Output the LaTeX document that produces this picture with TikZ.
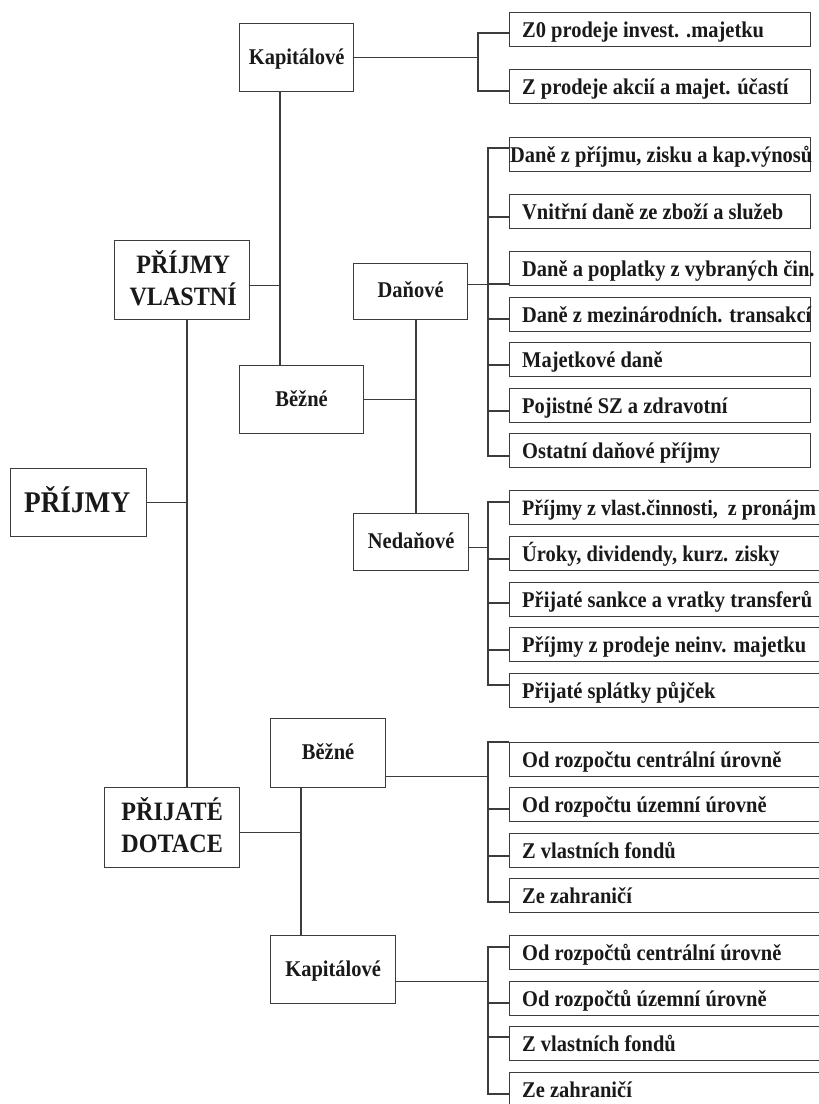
\documentclass[tikz,border=0pt]{standalone}
\usepackage{fontspec}
\setmainfont{Liberation Serif}[FakeStretch=0.91]
\definecolor{linec}{RGB}{60,60,60}
\definecolor{txtc}{RGB}{25,25,25}
\begin{document}
\begin{tikzpicture}[x=1pt,y=-1pt,
  box/.style={draw=linec,line width=1.3pt,rectangle,inner sep=0pt,anchor=north west},
  itemk/.style={box,minimum width=301pt,minimum height=34pt},
  itemw/.style={box,minimum width=310pt,minimum height=34pt},
  itxt/.style={anchor=base west,inner sep=0pt,text=txtc,font=\fontsize{22.5}{27}\selectfont\bfseries},
  mtxt/.style={anchor=base,inner sep=0pt,text=txtc,font=\fontsize{22.5}{27}\selectfont\bfseries},
  btxt/.style={anchor=base,inner sep=0pt,text=txtc,font=\fontsize{26.5}{32}\selectfont\bfseries},
  htxt/.style={anchor=base,inner sep=0pt,text=txtc,font=\fontsize{30}{36}\selectfont\bfseries},
  conn/.style={draw=linec,line width=1.3pt}]
\useasboundingbox (0,0) rectangle (819,1104);
\clip (0,0) rectangle (819,1104);
\fill[white] (0,0) rectangle (819,1104);

% ---- main boxes ----
\node[box,minimum width=114pt,minimum height=68pt] (kap1) at (239,23) {};
\node[box,minimum width=124pt,minimum height=68pt] (bez1) at (239,365) {};
\node[box,minimum width=114pt,minimum height=56pt] (dan) at (353,263) {};
\node[box,minimum width=115pt,minimum height=57pt] (ned) at (353,513) {};
\node[box,minimum width=135pt,minimum height=79pt] (pv) at (114,240) {};
\node[box,minimum width=136pt,minimum height=68pt] (pr) at (10,468) {};
\node[box,minimum width=135pt,minimum height=80pt] (pd) at (104,787) {};
\node[box,minimum width=115pt,minimum height=69pt] (bez2) at (270,718) {};
\node[box,minimum width=125pt,minimum height=68pt] (kap2) at (270,935) {};

\node[mtxt] (kap1t) at ([yshift=-7pt]kap1.center) {Kapitálové};
\node[mtxt] (bez1t) at ([yshift=-7pt]bez1.center) {Běžné};
\node[mtxt] (dant) at ([yshift=-6pt]dan.center) {Daňové};
\node[mtxt] (nedt) at ([yshift=-6.5pt]ned.center) {Nedaňové};
\node[mtxt] (bez2t) at ([yshift=-6.5pt]bez2.center) {Běžné};
\node[mtxt] (kap2t) at ([yshift=-7pt]kap2.center) {Kapitálové};
\node[htxt] (prt) at ([xshift=-1.5pt,yshift=-10pt]pr.center) {PŘÍJMY};
\node[btxt] (pvt1) at ([xshift=1pt,yshift=6.5pt]pv.center) {PŘÍJMY};
\node[btxt] (pvt2) at ([xshift=1pt,yshift=-25.5pt]pv.center) {VLASTNÍ};
\node[btxt] (pdt1) at ([yshift=7pt]pd.center) {PŘIJATÉ};
\node[btxt] (pdt2) at ([yshift=-25pt]pd.center) {DOTACE};

% ---- item boxes ----
\node[itemk] (k1) at (509,12) {};
\node[itemk] (k2) at (509,69) {};
\node[itemk] (d1) at (509,137) {};
\node[itemk] (d2) at (509,194) {};
\node[itemk] (d3) at (509,251) {};
\node[itemk] (d4) at (509,297) {};
\node[itemk] (d5) at (509,342) {};
\node[itemk] (d6) at (509,388) {};
\node[itemk] (d7) at (509,433) {};
\node[itemw] (n1) at (509,490) {};
\node[itemw] (n2) at (509,536) {};
\node[itemw] (n3) at (509,582) {};
\node[itemw] (n4) at (509,627) {};
\node[itemw] (n5) at (509,673) {};
\node[itemw] (b1) at (509,742) {};
\node[itemw] (b2) at (509,787) {};
\node[itemw] (b3) at (509,833) {};
\node[itemw] (b4) at (509,878) {};
\node[itemw] (c1) at (509,935) {};
\node[itemw] (c2) at (509,981) {};
\node[itemw] (c3) at (509,1026) {};
\node[itemw] (c4) at (509,1072) {};

\node[itxt] (k1t) at ([xshift=13pt,yshift=-8pt]k1.west) {Z0 prodeje invest. .majetku};
\node[itxt] (k2t) at ([xshift=13pt,yshift=-8pt]k2.west) {Z prodeje akcií a majet. účastí};
\node[itxt] (d1t) at ([xshift=1pt,yshift=-8pt]d1.west) {Daně z příjmu, zisku a kap.výnosů};
\node[itxt] (d2t) at ([xshift=13pt,yshift=-8pt]d2.west) {Vnitřní daně ze zboží a služeb};
\node[itxt] (d3t) at ([xshift=13pt,yshift=-8pt]d3.west) {Daně a poplatky z vybraných čin.};
\node[itxt] (d4t) at ([xshift=13pt,yshift=-8pt]d4.west) {Daně z mezinárodních. transakcí};
\node[itxt] (d5t) at ([xshift=13pt,yshift=-8pt]d5.west) {Majetkové daně};
\node[itxt] (d6t) at ([xshift=13pt,yshift=-8pt]d6.west) {Pojistné SZ a zdravotní};
\node[itxt] (d7t) at ([xshift=13pt,yshift=-8pt]d7.west) {Ostatní daňové příjmy};
\node[itxt,font=\fontsize{22}{27}\selectfont\bfseries] (n1t) at ([xshift=13pt,yshift=-8pt]n1.west) {Příjmy z vlast.činnosti,\ \ z pronájm};
\node[itxt] (n2t) at ([xshift=13pt,yshift=-8pt]n2.west) {Úroky, dividendy, kurz. zisky};
\node[itxt] (n3t) at ([xshift=13pt,yshift=-8pt]n3.west) {Přijaté sankce a vratky transferů};
\node[itxt] (n4t) at ([xshift=13pt,yshift=-8pt]n4.west) {Příjmy z prodeje neinv. majetku};
\node[itxt] (n5t) at ([xshift=13pt,yshift=-8pt]n5.west) {Přijaté splátky půjček};
\node[itxt] (b1t) at ([xshift=13pt,yshift=-8pt]b1.west) {Od rozpočtu centrální úrovně};
\node[itxt] (b2t) at ([xshift=13pt,yshift=-8pt]b2.west) {Od rozpočtu územní úrovně};
\node[itxt] (b3t) at ([xshift=13pt,yshift=-8pt]b3.west) {Z vlastních fondů};
\node[itxt] (b4t) at ([xshift=13pt,yshift=-8pt]b4.west) {Ze zahraničí};
\node[itxt] (c1t) at ([xshift=13pt,yshift=-8pt]c1.west) {Od rozpočtů centrální úrovně};
\node[itxt] (c2t) at ([xshift=13pt,yshift=-8pt]c2.west) {Od rozpočtů územní úrovně};
\node[itxt] (c3t) at ([xshift=13pt,yshift=-8pt]c3.west) {Z vlastních fondů};
\node[itxt] (c4t) at ([xshift=13pt,yshift=-8pt]c4.west) {Ze zahraničí};

% ---- junction columns ----
\coordinate (xK) at (478,0);
\coordinate (xD) at (488,0);
\coordinate (xM) at (416,0);
\coordinate (xV) at (280,0);
\coordinate (xL) at (187,0);
\coordinate (xP) at (301,0);

% branch points on item boxes
\coordinate (k1w) at (509,33);
\coordinate (k2w) at (509,91);
\coordinate (d1w) at (509,148);
\coordinate (d2w) at (509,217);
\coordinate (d3w) at (509,284);
\coordinate (d4w) at (509,319);
\coordinate (d5w) at (509,365);
\coordinate (d6w) at (509,411);
\coordinate (d7w) at (509,456);
\coordinate (n1w) at (509,502);
\coordinate (n2w) at (509,559);
\coordinate (n3w) at (509,603);
\coordinate (n4w) at (509,650);
\coordinate (n5w) at (509,685);
\coordinate (b1w) at (509,742);
\coordinate (b2w) at (509,809);
\coordinate (b3w) at (509,856);
\coordinate (b4w) at (509,902);
\coordinate (c1w) at (509,947);
\coordinate (c2w) at (509,1003);
\coordinate (c3w) at (509,1037);
\coordinate (c4w) at (509,1094);

% ---- connectors ----
% top Kapitálové
\draw[conn] (kap1.east) -- (kap1.east -| xK);
\draw[conn] (k1w) -| (xK |- k2w) -- (k2w);
\draw[conn] (kap1.south -| xV) -- (bez1.north -| xV);
\draw[conn] ([yshift=-5.5pt]pv.east) -- ([yshift=-5.5pt]pv.east -| xV);
% Běžné -> Daňové / Nedaňové
\draw[conn] (bez1.east) -- (bez1.east -| xM);
\draw[conn] (dan.south -| xM) -- (ned.north -| xM);
% Daňové
\draw[conn] ([yshift=7pt]dan.east) -- ([yshift=7pt]dan.east -| xD);
\draw[conn] (d1w) -| (xD |- d7w) -- (d7w);
\draw[conn] (d2w -| xD) -- (d2w);
\draw[conn] (d3w -| xD) -- (d3w);
\draw[conn] (d4w -| xD) -- (d4w);
\draw[conn] (d5w -| xD) -- (d5w);
\draw[conn] (d6w -| xD) -- (d6w);
% Nedaňové
\draw[conn] ([yshift=-5.5pt]ned.east) -- ([yshift=-5.5pt]ned.east -| xD);
\draw[conn] (n1w) -| (xD |- n5w) -- (n5w);
\draw[conn] (n2w -| xD) -- (n2w);
\draw[conn] (n3w -| xD) -- (n3w);
\draw[conn] (n4w -| xD) -- (n4w);
% left spine
\draw[conn] (pv.south -| xL) -- (pd.north -| xL);
\draw[conn] (pr.east) -- (pr.east -| xL);
% Přijaté dotace
\draw[conn] ([yshift=-5pt]pd.east) -- ([yshift=-5pt]pd.east -| xP);
\draw[conn] (bez2.south -| xP) -- (kap2.north -| xP);
\draw[conn] ([yshift=-23.5pt]bez2.east) -- ([yshift=-23.5pt]bez2.east -| xD);
\draw[conn] (b1w) -| (xD |- b4w) -- (b4w);
\draw[conn] (b2w -| xD) -- (b2w);
\draw[conn] (b3w -| xD) -- (b3w);
\draw[conn] ([yshift=-12pt]kap2.east) -- ([yshift=-12pt]kap2.east -| xD);
\draw[conn] (c1w) -| (xD |- c4w) -- (c4w);
\draw[conn] (c2w -| xD) -- (c2w);
\draw[conn] (c3w -| xD) -- (c3w);
\end{tikzpicture}
\end{document}
